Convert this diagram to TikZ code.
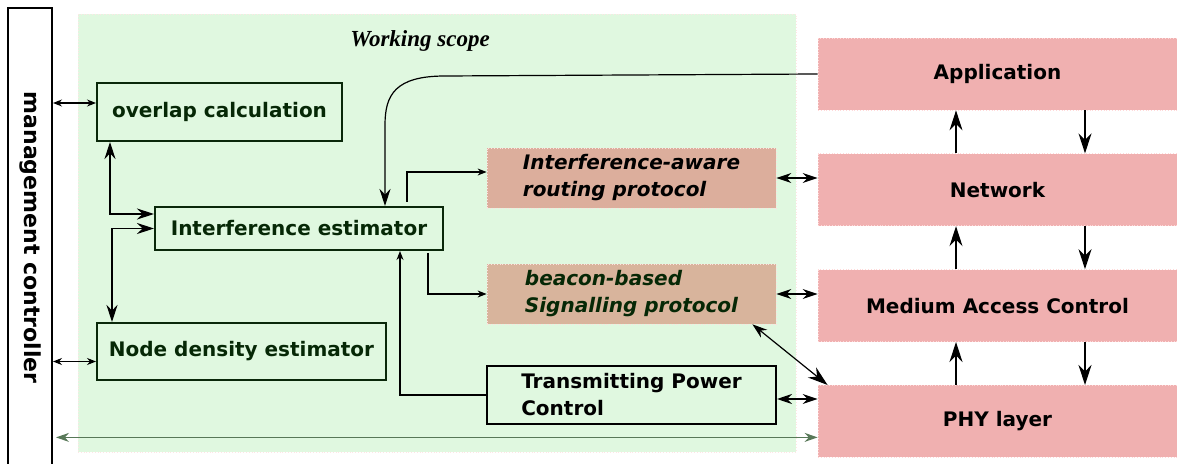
\documentclass[tikz,border=0pt]{standalone}
\usepackage{fontspec}
\setmainfont{DejaVu Sans}
\newfontfamily\scopefont{Liberation Serif}
\usetikzlibrary {positioning}
\usetikzlibrary {arrows.meta}

\definecolor{scopegreen}{HTML}{E0F8E0}
\definecolor{blockline}{HTML}{0A280A}
\definecolor{blocktext}{HTML}{062806}
\definecolor{routefill}{HTML}{DCAE9C}
\definecolor{beaconfill}{HTML}{D8B49C}
\definecolor{layerpink}{HTML}{F0B0B0}
\definecolor{busline}{HTML}{587858}

\begin{document}
\begin{tikzpicture}
	[x=0.5pt,y=-0.5pt,node distance=21.5pt,>={Stealth[length=8.5pt,width=5.5pt]},
	small/.style={>={Stealth[length=4.5pt,width=3.5pt]}},
	mid/.style={>={Stealth[length=7.5pt,width=5pt]}},
	stacktip/.style={>={Stealth[length=10pt,width=6.5pt]}},
	wire/.style={line width=0.6pt},
	scope/.style={rectangle,fill=scopegreen,draw=pink!40,densely dotted,minimum width=359pt,minimum height=219pt},
	block/.style={rectangle,draw=blockline,line width=1pt,text=blocktext,font=\bfseries},
	proto/.style={rectangle,align=left,minimum width=144.5pt,minimum height=29pt,font=\fontsize{10}{13.5}\selectfont\bfseries\itshape},
	layer/.style={rectangle,fill=layerpink,draw=pink!60,densely dotted,minimum width=179.5pt,minimum height=36pt,font=\bfseries}]
	\useasboundingbox (0,0) rectangle (1177,464);
	% working scope
	\node[scope] (scope) at (437,233) {};
	\node[font=\scopefont\fontsize{11.5}{13}\selectfont\bfseries\itshape] (title) at (420,41) {Working scope};
	\node[draw,line width=1pt,minimum width=22pt,minimum height=229.5pt,font=\fontsize{11}{13}\selectfont\bfseries] (mgmt) at (30,237.5) {\rotatebox{-90}{management controller}};
	% estimators
	\node[block,minimum width=122.5pt,minimum height=29pt] (overlap) at (219.5,112) {overlap calculation};
	\node[block,minimum width=144pt,minimum height=21.5pt] (estim) at (299,228.5) {Interference estimator};
	\node[block,minimum width=144.5pt,minimum height=28.5pt] (density) at (241.5,351.5) {Node density estimator};
	% protocols
	\node[proto,fill=routefill,draw=pink!50,densely dotted] (route) at (631.5,178) {Interference-aware\\routing protocol};
	\node[proto,fill=beaconfill,draw=pink!50,densely dotted,text=blocktext] (beacon) at (631.5,294) {beacon-based\\Signalling protocol};
	\node[proto,draw,line width=1pt,font=\fontsize{10}{13.5}\selectfont\bfseries] (tpc) at (631.5,395) {Transmitting Power\\Control};
	% stack
	\node[layer] (app) at (997.5,74) {Application};
	\node[layer] (net) [below=of app] {Network};
	\node[layer] (mac) [below=of net] {Medium Access Control};
	\node[layer] (phy) [below=of mac] {PHY layer};
	% port points
	\coordinate (ovin) at ([yshift=4.5pt]overlap.west);
	\coordinate (dnin) at ([yshift=-5pt]density.west);
	\coordinate (phyin) at ([yshift=-8pt]phy.west);
	\coordinate (bend) at (445,76);
	% management links
	\draw[wire,small,<->] (mgmt.east |- ovin) -- (ovin);
	\draw[wire,small,<->] (mgmt.east |- dnin) -- (dnin);
	\draw[wire,busline,<->,>={Stealth[length=6.5pt,width=4.5pt]}] ([xshift=1.5pt]mgmt.east |- phyin) -- (phyin);
	% estimator links
	\draw[wire,<->] ([xshift=7pt]overlap.south west) |- ([yshift=7.25pt]estim.west);
	\draw[wire,<->] (estim.west) -| ([xshift=8pt]density.north west);
	\draw[wire,->] (app.west) -- (bend) .. controls (395,76) and (385,95) .. (385,125) -- ([xshift=43pt]estim.north);
	\draw[wire,small,->] ([xshift=54pt,yshift=2pt]estim.north) |- ([yshift=3pt]route.west);
	\draw[wire,small,->] ([xshift=64.5pt,yshift=-1pt]estim.south) |- (beacon.west);
	\draw[wire,small,->] (tpc.west) -| ([xshift=50.5pt]estim.south);
	% protocol links
	\draw[wire,mid,<->] (route.east) -- (route.east -| net.west);
	\draw[wire,mid,<->] (beacon.east) -- (beacon.east -| mac.west);
	\draw[wire,mid,<->] ([yshift=-2pt]tpc.east) -- ([yshift=-2pt]tpc.east -| phy.west);
	\draw[wire,{Stealth[length=7.5pt,width=5pt]}-{Stealth[length=10pt,width=6.5pt]}] ([xshift=-12pt]beacon.south east) -- ([xshift=5pt]phy.north west);
	% stack links
	\draw[wire,stacktip,->] ([xshift=-20.75pt]net.north) -- ([xshift=-20.75pt]app.south);
	\draw[wire,stacktip,->] ([xshift=-20.75pt]mac.north) -- ([xshift=-20.75pt]net.south);
	\draw[wire,stacktip,->] ([xshift=-20.75pt]phy.north) -- ([xshift=-20.75pt]mac.south);
	\draw[wire,stacktip,->] ([xshift=43.75pt]app.south) -- ([xshift=43.75pt]net.north);
	\draw[wire,stacktip,->] ([xshift=43.75pt]net.south) -- ([xshift=43.75pt]mac.north);
	\draw[wire,stacktip,->] ([xshift=43.75pt]mac.south) -- ([xshift=43.75pt]phy.north);
\end{tikzpicture}
\end{document}
